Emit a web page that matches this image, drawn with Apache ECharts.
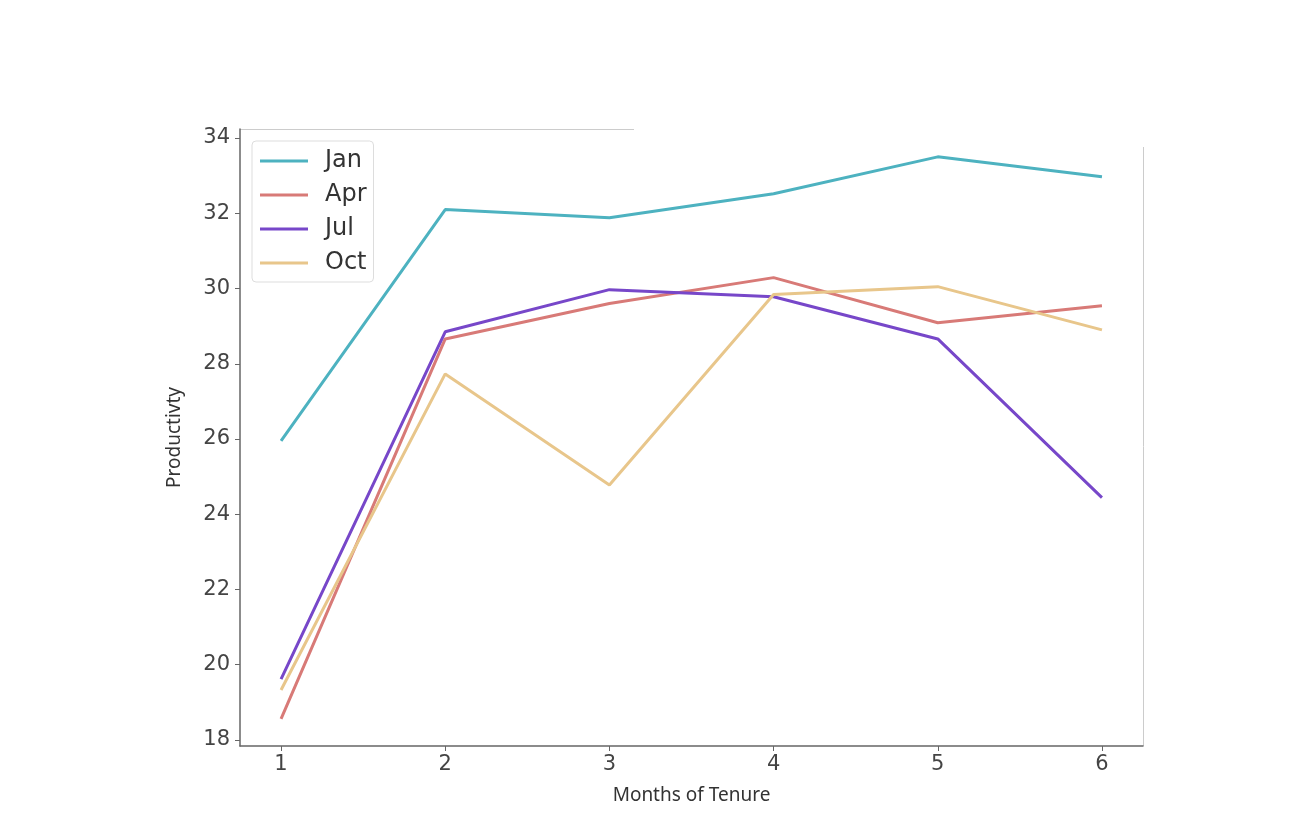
<!DOCTYPE html>
<html><head><meta charset="utf-8">
<script src="https://cdn.jsdelivr.net/npm/echarts@6/dist/echarts.min.js"></script>
<style>html,body{margin:0;padding:0;background:#fff}#c{width:1292px;height:822px}</style>
</head><body><div id="c"></div>
<script>
const months = [1, 2, 3, 4, 5, 6];
const seriesNames = ['Jan', 'Apr', 'Jul', 'Oct'];
const jan = [25.95, 32.10, 31.88, 32.52, 33.50, 32.97];
const apr = [18.56, 28.66, 29.60, 30.29, 29.09, 29.54];
const jul = [19.62, 28.85, 29.97, 29.78, 28.66, 24.44];
const oct = [19.33, 27.73, 24.78, 29.84, 30.05, 28.90];
const yTicks = [18, 20, 22, 24, 26, 28, 30, 32, 34];
const colors = ['#4db2c0', '#d87a77', '#7747c9', '#e8c68b'];

const values = [jan, apr, jul, oct];
const chart = echarts.init(document.getElementById('c'));
chart.setOption({
  animation: false,
  color: colors,
  grid: { left: 240, right: 149, top: 129, bottom: 76, containLabel: false },
  legend: {
    left: 252, top: 141, orient: 'vertical',
    data: seriesNames.map(n => ({ name: n, icon: 'rect' })),
    itemWidth: 48, itemHeight: 3, itemGap: 10,
    padding: [8, 7, 7, 8],
    borderColor: '#dddddd', borderWidth: 1, borderRadius: 4,
    backgroundColor: '#ffffff',
    textStyle: { fontFamily: 'DejaVu Sans', fontSize: 24, color: '#333', lineHeight: 24, padding: [0, 0, 0, 12] }
  },
  xAxis: {
    type: 'value', min: 0.75, max: 6.25, interval: 1,
    name: 'Months of Tenure', nameLocation: 'middle', nameGap: 40,
    nameTextStyle: { fontFamily: 'Noto Sans', fontSize: 19, color: '#333' },
    axisLine: { show: true, lineStyle: { color: '#666', width: 1.5 } },
    axisTick: { show: true, length: 5, lineStyle: { color: '#666' }, customValues: months },
    axisLabel: { fontFamily: 'DejaVu Sans', fontSize: 21, color: '#444', margin: 8, customValues: months },
    splitLine: { show: false }
  },
  yAxis: {
    type: 'value', min: 17.84, max: 34.24,
    name: 'Productivty', nameLocation: 'middle', nameGap: 56, nameRotate: 90,
    nameTextStyle: { fontFamily: 'Noto Sans', fontSize: 19, color: '#333' },
    axisLine: { show: true, lineStyle: { color: '#666', width: 1.5 } },
    axisTick: { show: true, length: 5, lineStyle: { color: '#666' }, customValues: yTicks },
    axisLabel: { fontFamily: 'DejaVu Sans', fontSize: 21, color: '#444', margin: 10, customValues: yTicks },
    splitLine: { show: false }
  },
  graphic: [
    { type: 'line', shape: { x1: 240, y1: 129.5, x2: 634, y2: 129.5 }, style: { stroke: '#cccccc', lineWidth: 1 } },
    { type: 'line', shape: { x1: 1143.5, y1: 147, x2: 1143.5, y2: 746 }, style: { stroke: '#cccccc', lineWidth: 1 } }
  ],
  series: seriesNames.map((n, i) => ({
    name: n, type: 'line', showSymbol: false, symbol: 'none',
    data: months.map((m, j) => [m, values[i][j]]),
    lineStyle: { width: 3 }
  }))
});
</script></body></html>
